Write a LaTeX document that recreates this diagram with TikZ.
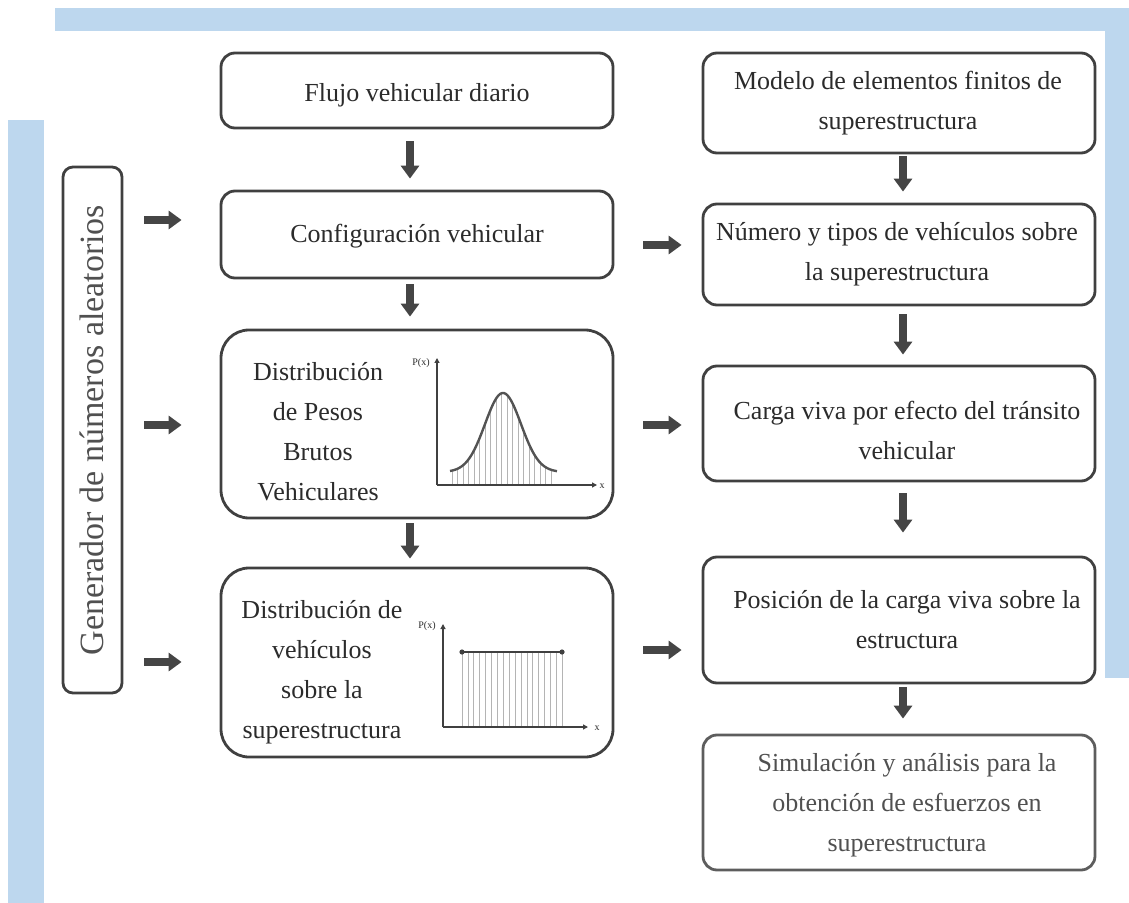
\documentclass[tikz,border=0pt]{standalone}
\usepackage{fontspec}
\setmainfont{Liberation Serif}
\usetikzlibrary{arrows.meta,calc}
\definecolor{bandblue}{HTML}{BDD7EE}
\definecolor{boxline}{HTML}{404040}
\definecolor{txt}{HTML}{2B2B2B}
\definecolor{softtxt}{HTML}{505050}
\definecolor{arrowgray}{HTML}{454545}
\definecolor{hatchgray}{HTML}{B4B4B4}
\begin{document}
\begin{tikzpicture}[x=0.5pt,y=-0.5pt,
  box/.style={draw=boxline, line width=1.4pt, rounded corners=7pt, minimum width=196pt, inner sep=0pt},
  bigbox/.style={box, rounded corners=14pt},
  lbl/.style={text=txt, font=\fontsize{13}{20}\selectfont, align=center, inner sep=0pt},
  blockarrow/.style={draw=arrowgray, line width=4.2pt, -{Triangle[length=6.5pt,width=9pt]}},
  axis/.style={draw=boxline, line width=0.6pt, -{Triangle[length=2.5pt,width=2.5pt]}},
  hatch/.style={draw=hatchgray, line width=0.4pt},
  curve/.style={draw=boxline!90, line width=1.2pt},
  tiny/.style={font=\fontsize{5}{5}\selectfont, text=txt, inner sep=0pt}
]
\useasboundingbox (0,0) rectangle (1129,903);
% blue bands
\fill[bandblue] (55,8) rectangle (1129,31);
\fill[bandblue] (1105,31) rectangle (1129,678);
\fill[bandblue] (8,120) rectangle (44,903);

% left generator box
\node[box, rounded corners=5pt, minimum width=29.5pt, minimum height=263pt] (gen) at (92.5,430) {};
\node[rotate=90, font=\fontsize{17}{17}\selectfont, text=softtxt, inner sep=0pt] (genT) at (92,430) {Generador de números aleatorios};

% left column
\node[box, minimum height=37.5pt] (flujo) at (417,90.5) {};
\node[lbl] (flujoT) at (417,95) {Flujo vehicular diario};
\node[box, minimum height=43.5pt] (cfg) at (417,234.5) {};
\node[lbl] (cfgT) at (417,236) {Configuración vehicular};
\node[bigbox, minimum height=94pt] (dist) at (417,424) {};
\node[lbl] (distT) at (318,432) {Distribución\\de Pesos\\Brutos\\Vehiculares};
\node[bigbox, minimum height=94.5pt] (dist2) at (417,662.5) {};
\node[lbl] (dist2T) at (322,672) {Distribución de\\vehículos\\sobre la\\superestructura};

% right column
\node[box, minimum height=50pt] (modelo) at (899,103) {};
\node[lbl] (modeloT) at (898,103) {Modelo de elementos finitos de\\superestructura};
\node[box, minimum height=50.5pt] (num) at (899,254.5) {};
\node[lbl] (numT) at (897,254) {Número y tipos de vehículos sobre\\la superestructura};
\node[box, minimum height=57.5pt] (carga) at (899,423.5) {};
\node[lbl] (cargaT) at (907,430) {Carga viva por efecto del tránsito\\vehicular};
\node[box, minimum height=63pt] (pos) at (899,620) {};
\node[lbl] (posT) at (907,620) {Posición de la carga viva sobre la\\estructura};
\node[box, draw=boxline!85, minimum height=67.5pt] (sim) at (899,802.5) {};
\node[lbl, text=softtxt] (simT) at (907,805) {Simulación y análisis para la\\obtención de esfuerzos en\\superestructura};

% plot 1 (bell curve)
\foreach \xx in {452,457.5,...,556}
  \draw[hatch] (\xx,485) -- (\xx,{472-79*exp(-((\xx-503)^2)/648)});
\draw[curve] plot[domain=450:557,samples=80,smooth] (\x,{472-79*exp(-((\x-503)^2)/648)});
\draw[axis] (437,485) -- (597,485);
\draw[axis] (437,485) -- (437,358);
\node[tiny] (p1y) at (421,363) {P(x)};
\node[tiny] (p1x) at (602,486) {x};

% plot 2 (uniform)
\foreach \xx in {462,467.9,...,563}
  \draw[hatch] (\xx,652) -- (\xx,727);
\draw[boxline, line width=0.8pt] (462,652) -- (562,652);
\fill[boxline] (462,652) circle (1.3pt) (562,652) circle (1.3pt);
\draw[axis] (443,727) -- (588,727);
\draw[axis] (443,727) -- (443,624);
\node[tiny] (p2y) at (427,626) {P(x)};
\node[tiny] (p2x) at (597,728) {x};

% vertical arrows, left column
\draw[blockarrow] ([xshift=-3.5pt,yshift=-6pt]flujo.south) -- ([xshift=-3.5pt,yshift=5.5pt]cfg.north);
\draw[blockarrow] ([xshift=-3.5pt,yshift=-2.5pt]cfg.south) -- ([xshift=-3.5pt,yshift=6pt]dist.north);
\draw[blockarrow] ([xshift=-3.5pt,yshift=-2pt]dist.south) -- ([xshift=-3.5pt,yshift=4pt]dist2.north);
% vertical arrows, right column
\draw[blockarrow] ([xshift=2pt,yshift=-1pt]modelo.south) -- ([xshift=2pt,yshift=5.5pt]num.north);
\draw[blockarrow] ([xshift=2pt,yshift=-4pt]num.south) -- ([xshift=2pt,yshift=5pt]carga.north);
\draw[blockarrow] ([xshift=2pt,yshift=-5.5pt]carga.south) -- ([xshift=2pt,yshift=11.5pt]pos.north);
\draw[blockarrow] ([xshift=2pt,yshift=-1.5pt]pos.south) -- ([xshift=2pt,yshift=7.5pt]sim.north);

% horizontal arrows
\coordinate (yL1) at (0,220);
\coordinate (yL2) at (0,425);
\coordinate (yL3) at (0,662);
\coordinate (yM1) at (0,245);
\coordinate (yM2) at (0,425);
\coordinate (yM3) at (0,650);
\draw[blockarrow] ([xshift=10.5pt]gen.east |- yL1) -- ([xshift=-19pt]cfg.west |- yL1);
\draw[blockarrow] ([xshift=10.5pt]gen.east |- yL2) -- ([xshift=-19pt]dist.west |- yL2);
\draw[blockarrow] ([xshift=10.5pt]gen.east |- yL3) -- ([xshift=-19pt]dist2.west |- yL3);
\draw[blockarrow] ([xshift=14.5pt]cfg.east |- yM1) -- ([xshift=-10pt]num.west |- yM1);
\draw[blockarrow] ([xshift=14.5pt]dist.east |- yM2) -- ([xshift=-10pt]carga.west |- yM2);
\draw[blockarrow] ([xshift=14.5pt]dist2.east |- yM3) -- ([xshift=-10pt]pos.west |- yM3);
\end{tikzpicture}
\end{document}
